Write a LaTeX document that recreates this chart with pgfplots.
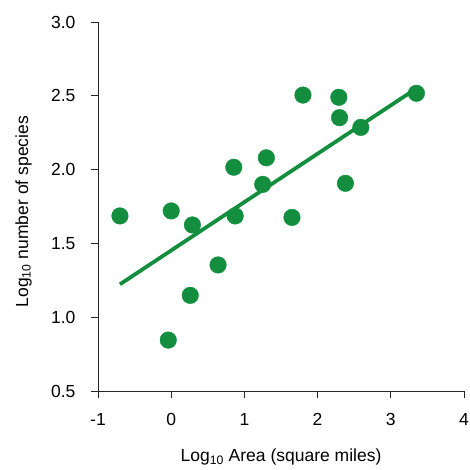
\documentclass[border=0pt]{standalone}
\usepackage{pgfplots}
\pgfplotsset{compat=1.18}
\usepackage{fontspec}
\setmainfont{Liberation Sans}
\definecolor{sgreen}{RGB}{18,142,62}
\begin{document}
\begin{tikzpicture}
\begin{axis}[
  name=ax,
  scale only axis,
  width=366pt, height=369pt,
  xmin=-1, xmax=4, ymin=0.5, ymax=3.0,
  axis x line*=bottom, axis y line*=left,
  axis line style={line width=0.9pt, black!85},
  tick style={line width=0.9pt, black!85},
  tick align=outside, major tick length=7pt,
  xtick={-1,0,1,2,3,4}, ytick={0.5,1.0,1.5,2.0,2.5,3.0},
  yticklabel style={/pgf/number format/fixed, /pgf/number format/fixed zerofill, /pgf/number format/precision=1},
  /pgf/number format/assume math mode=true,
  ticklabel style={font=\fontsize{17.5}{19}\selectfont},
  xticklabel style={yshift=-12pt},
  yticklabel style={xshift=-12pt},
  xlabel={Log\textsubscript{10} Area (square miles)},
  ylabel={Log\textsubscript{10} number of species},
  label style={font=\fontsize{17.5}{19}\selectfont},
  xlabel style={at={(axis description cs:0.5,-0.1789)}, anchor=center},
  ylabel style={at={(axis description cs:-0.2035,0.486)}, anchor=center, rotate=0},
  clip=false,
]
\addplot[sgreen, line width=3.8pt] coordinates {(-0.70,1.223) (3.35,2.55)};
\addplot[only marks, mark=*, mark size=8.3pt, mark options={sgreen, fill=sgreen, draw=sgreen}] coordinates {
(-0.70,1.686) (0.00,1.72) (0.29,1.625) (0.26,1.148) (-0.04,0.845)
(1.80,2.505) (2.29,2.49) (2.30,2.352) (2.59,2.286) (3.35,2.517)
(0.855,2.016) (1.30,2.08) (1.25,1.90) (0.874,1.686) (1.65,1.676)
(2.38,1.907) (0.64,1.354)
};
\end{axis}
\pgfresetboundingbox
\path ([xshift=-98pt,yshift=-78pt]ax.south west) rectangle ([xshift=6pt,yshift=22pt]ax.north east);
\end{tikzpicture}
\end{document}
